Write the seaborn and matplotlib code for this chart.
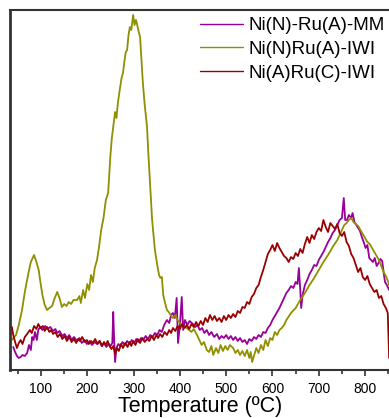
import matplotlib
matplotlib.use('Agg')
import matplotlib.pyplot as plt
from matplotlib.ticker import MultipleLocator
import seaborn as sns
import pandas as pd

sns.set_theme(style='ticks')
plt.rcParams['font.family'] = ['Liberation Sans', 'DejaVu Sans']
plt.rcParams['text.color'] = 'black'
plt.rcParams['axes.labelcolor'] = 'black'
plt.rcParams['xtick.labelcolor'] = 'black'

# H2-TPR traces, intensity in arbitrary units
labels = ['Ni(N)-Ru(A)-MM', 'Ni(N)Ru(A)-IWI', 'Ni(A)Ru(C)-IWI']
colors = ['#990099', '#8f8f00', '#990000']

mm_temp = [40, 44, 48, 52, 56, 60, 65, 70, 74, 78, 81, 84, 87, 91, 94, 98, 103, 109, 114, 120,
           126, 131, 135, 140, 146, 151, 156, 161, 166, 171, 178, 183, 188, 194, 199, 205, 210, 216,
           221, 226, 231, 236, 241, 246, 250, 254, 256, 258, 260, 263, 267, 271, 276, 281, 286, 291,
           296, 301, 306, 311, 316, 321, 326, 331, 336, 341, 346, 351, 356, 361, 366, 372, 377, 381,
           385, 389, 393, 396, 400, 404, 407, 411, 416, 421, 428, 433, 438, 443, 448, 453, 458, 463,
           468, 474, 480, 485, 490, 495, 500, 505, 510, 515, 520, 525, 530, 535, 540, 545, 550, 555,
           560, 565, 570, 575, 580, 585, 590, 595, 600, 605, 610, 615, 620, 625, 630, 635, 640, 645,
           650, 654, 657, 660, 662, 665, 670, 675, 680, 685, 690, 695, 700, 705, 710, 715, 720, 725,
           730, 735, 740, 745, 750, 754, 757, 761, 765, 770, 773, 777, 781, 785, 789, 793, 797, 801,
           805, 809, 813, 817, 821, 825, 829, 833, 837, 840, 843, 847, 852]
mm_int = [23, 18, 14, 12, 13, 15, 14, 17, 25, 20, 33, 30, 38, 30, 40, 43, 40, 44, 41, 43,
          39, 41, 37, 39, 34, 36, 32, 35, 30, 33, 29, 32, 27, 30, 26, 29, 25, 28,
          26, 29, 24, 27, 23, 26, 24, 27, 58, 30, 8, 22, 26, 24, 28, 25, 29, 26,
          30, 27, 31, 28, 32, 30, 34, 31, 35, 33, 37, 35, 40, 38, 45, 50, 47, 55,
          57, 52, 72, 27, 45, 73, 40, 50, 45, 49, 46, 43, 45, 40, 42, 37, 40, 35,
          38, 33, 36, 31, 34, 32, 35, 31, 34, 30, 33, 29, 32, 28, 30, 26, 31, 29,
          33, 31, 35, 33, 38, 37, 42, 45, 50, 54, 58, 62, 67, 72, 77, 80, 84, 82,
          88, 86, 102, 80, 62, 75, 85, 90, 96, 100, 105, 104, 110, 114, 118, 123, 128, 132,
          137, 140, 145, 150, 152, 172, 150, 150, 155, 152, 157, 148, 145, 142, 139, 133, 128, 122,
          125, 112, 110, 108, 112, 104, 107, 111, 109, 98, 88, 85, 80]

iwi_temp = [37, 42, 46, 52, 59, 65, 72, 78, 85, 90, 95, 98, 103, 108, 113, 118, 124, 128, 135, 140,
            145, 150, 155, 160, 165, 170, 178, 183, 186, 191, 195, 200, 204, 208, 212, 216, 221, 225,
            230, 235, 240, 245, 250, 253, 256, 260, 263, 266, 270, 274, 277, 280, 283, 286, 289, 292,
            295, 299, 302, 305, 307, 310, 314, 317, 320, 324, 329, 332, 335, 340, 346, 351, 355, 358,
            361, 364, 368, 372, 376, 380, 385, 390, 395, 400, 405, 410, 415, 420, 425, 430, 437, 442,
            447, 452, 458, 463, 468, 472, 478, 483, 488, 493, 498, 503, 508, 515, 520, 525, 530, 535,
            540, 545, 550, 553, 556, 560, 565, 570, 575, 580, 585, 590, 595, 600, 605, 610, 615, 620,
            625, 630, 640, 650, 660, 670, 680, 690, 700, 710, 720, 730, 740, 750, 755, 760, 765, 770,
            775, 780, 785, 790, 795, 800, 805, 810, 815, 820, 825, 830, 835, 840, 845, 850, 852]
iwi_int = [30, 33, 35, 45, 60, 78, 95, 108, 115, 108, 100, 90, 75, 65, 60, 62, 64, 70, 78, 72,
           63, 66, 64, 68, 66, 70, 70, 74, 67, 80, 72, 86, 80, 95, 88, 102, 110, 122,
           140, 152, 170, 177, 215, 232, 243, 258, 252, 267, 280, 292, 297, 308, 318, 320, 335, 343,
           340, 355, 345, 350, 347, 340, 333, 310, 287, 265, 243, 215, 190, 150, 120, 105, 95, 92,
           93, 75, 67, 60, 58, 55, 52, 55, 50, 47, 45, 43, 42, 40, 38, 41, 35, 30,
           25, 28, 20, 18, 24, 15, 22, 17, 25, 19, 24, 20, 25, 22, 17, 20, 15, 19,
           14, 20, 12, 18, 8, 14, 22, 17, 25, 20, 30, 24, 32, 30, 38, 35, 40, 42,
           45, 50, 57, 62, 70, 77, 85, 92, 100, 108, 115, 123, 130, 140, 145, 147, 150, 152,
           148, 146, 144, 140, 136, 132, 128, 126, 122, 118, 114, 110, 104, 98, 94, 88, 85]

ru_c_temp = [37, 40, 44, 48, 52, 56, 60, 65, 70, 76, 80, 85, 90, 94, 99, 104, 108, 113, 118, 122,
             126, 131, 136, 141, 146, 151, 156, 161, 166, 171, 176, 180, 184, 189, 194, 199, 203,
             208, 212, 217, 222, 227, 232, 236, 240, 244, 248, 252, 256, 260, 264, 268, 273, 277,
             282, 287, 291, 295, 299, 304, 309, 314, 319, 324, 329, 334, 339, 344, 349, 353, 357,
             362, 367, 372, 377, 381, 385, 390, 395, 400, 405, 410, 415, 420, 425, 430, 435, 440,
             445, 450, 455, 460, 465, 470, 475, 480, 485, 490, 495, 500, 505, 510, 515, 520, 525,
             530, 535, 540, 545, 550, 555, 560, 565, 570, 575, 580, 585, 590, 595, 600, 605, 610,
             615, 620, 625, 630, 635, 640, 645, 650, 655, 660, 665, 670, 675, 680, 685, 690, 695,
             700, 705, 710, 715, 720, 725, 730, 735, 740, 745, 750, 755, 760, 765, 770, 775, 780,
             785, 790, 795, 800, 805, 810, 815, 820, 825, 830, 835, 840, 845, 849, 852]
ru_c_int = [43, 35, 28, 22, 27, 30, 26, 33, 36, 40, 37, 44, 41, 46, 42, 44, 39, 43, 38, 40,
            36, 38, 33, 36, 31, 34, 29, 33, 28, 31, 27, 31, 29, 33, 28, 30, 26,
            29, 27, 31, 26, 29, 24, 28, 25, 29, 24, 21, 24, 16, 22, 19, 26, 22,
            27, 23, 28, 24, 29, 25, 31, 27, 32, 28, 31, 29, 34, 30, 35, 32, 36,
            33, 38, 35, 40, 37, 42, 39, 44, 41, 46, 42, 45, 41, 46, 43, 48, 44,
            49, 45, 52, 48, 55, 50, 54, 49, 52, 48, 54, 50, 55, 52, 56, 53, 59,
            57, 63, 62, 68, 66, 73, 76, 82, 85, 93, 100, 108, 116, 120, 125, 119, 127,
            122, 118, 114, 112, 108, 113, 111, 117, 114, 121, 117, 126, 133, 127, 135, 131, 138,
            142, 139, 150, 143, 138, 147, 144, 141, 146, 137, 134, 138, 128, 124, 116, 112, 105,
            98, 102, 93, 90, 94, 86, 82, 78, 80, 72, 74, 66, 62, 57, 12]

frames = []
for name, t, y in [(labels[0], mm_temp, mm_int), (labels[1], iwi_temp, iwi_int),
                   (labels[2], ru_c_temp, ru_c_int)]:
    frames.append(pd.DataFrame({'T': t, 'I': y, 'sample': name}))
df = pd.concat(frames, ignore_index=True)

W, H = 389, 418
fig = plt.figure(figsize=(W / 100, H / 100), dpi=100)
ax = fig.add_axes([10 / W, 48 / H, 381 / W, 360 / H])

sns.lineplot(data=df, x='T', y='I', hue='sample', hue_order=labels,
             palette=dict(zip(labels, colors)), estimator=None, sort=False,
             linewidth=1.3, ax=ax)

ax.set_xlim(33, 856)
ax.set_ylim(0, 360)
ax.xaxis.set_major_locator(MultipleLocator(100))
ax.xaxis.set_minor_locator(MultipleLocator(50))
ax.set_yticks([])
ax.set_ylabel('')
ax.set_xlabel('Temperature (ºC)', fontsize=15.5, labelpad=0)
ax.tick_params(axis='x', which='major', direction='out', length=4.3, width=1.2,
               labelsize=10, pad=4, color='#333333')
ax.tick_params(axis='x', which='minor', direction='out', length=2.8, width=1.2,
               color='#333333')
for side in ['left', 'top', 'bottom', 'right']:
    ax.spines[side].set_linewidth(1.5)
    ax.spines[side].set_color('#333333')
ax.spines['left'].set_linewidth(2)

leg = ax.legend(loc='upper left', bbox_to_anchor=(200 / W, 1 - 17 / H),
                bbox_transform=fig.transFigure, frameon=False, fontsize=13.5,
                handlelength=2.3, handletextpad=0.3, labelspacing=0.35,
                borderpad=0, borderaxespad=0)
for line in leg.get_lines():
    line.set_linewidth(1.0)
for txt in leg.get_texts():
    txt.set_color('black')

fig.savefig('out.png', dpi=100)
